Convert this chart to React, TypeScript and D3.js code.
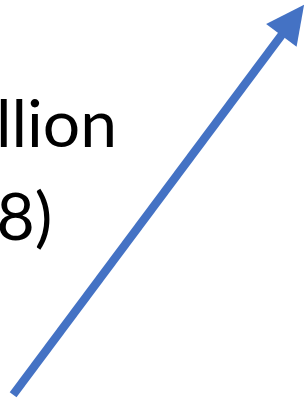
import React, { useEffect, useRef } from 'react';
import * as d3 from 'd3';

// Visible fragments of the cropped label
const labelLines = ['llion', '8)'];
// Right edge of each fragment, in frame units
const labelRight = [0.384, 0.172];
const labelBaseline = [0.366, 0.597];

// Arrow: start and tip in normalised frame units
const arrowX = [0.043, 0.997];
const arrowY = [0.018, 0.988];

const width = 305;
const height = 402;

const App: React.FC = () => {
    const svgRef = useRef<SVGSVGElement | null>(null);

    useEffect(() => {
        if (!svgRef.current) return;
        const svg = d3.select(svgRef.current);
        svg.selectAll('*').remove();

        const x = d3.scaleLinear().domain([0, 1]).range([0, width]);
        const y = d3.scaleLinear().domain([0, 1]).range([height, 0]);

        const blue = '#4472C4';

        // Labels
        svg
            .selectAll('.label')
            .data(labelLines)
            .enter()
            .append('text')
            .attr('class', 'label')
            .attr('x', (_, i) => x(labelRight[i]))
            .attr('y', (_, i) => height - y(labelBaseline[i]))
            .attr('text-anchor', 'end')
            .attr('font-family', 'Lato, sans-serif')
            .attr('font-size', 66)
            .attr('fill', '#000')
            .text((d) => d);

        // Arrow
        const x0 = x(arrowX[0]);
        const y0 = y(arrowY[0]);
        const x1 = x(arrowX[1]);
        const y1 = y(arrowY[1]);
        const ang = Math.atan2(y1 - y0, x1 - x0);
        const headLen = 38;
        const headHalf = 19;
        const bx = x1 - headLen * Math.cos(ang);
        const by = y1 - headLen * Math.sin(ang);
        const nx = -Math.sin(ang);
        const ny = Math.cos(ang);

        svg
            .append('line')
            .attr('x1', x0)
            .attr('y1', y0)
            .attr('x2', bx + 2 * Math.cos(ang))
            .attr('y2', by + 2 * Math.sin(ang))
            .attr('stroke', blue)
            .attr('stroke-width', 8.5);

        svg
            .append('path')
            .attr(
                'd',
                d3.line()([
                    [x1, y1],
                    [bx + headHalf * nx, by + headHalf * ny],
                    [bx - headHalf * nx, by - headHalf * ny],
                ]) + 'Z'
            )
            .attr('fill', blue);
    }, []);

    return (
        <svg
            ref={svgRef}
            width={width}
            height={height}
            style={{ position: 'fixed', left: 0, top: 0, background: '#fff' }}
        />
    );
};

export default App;
